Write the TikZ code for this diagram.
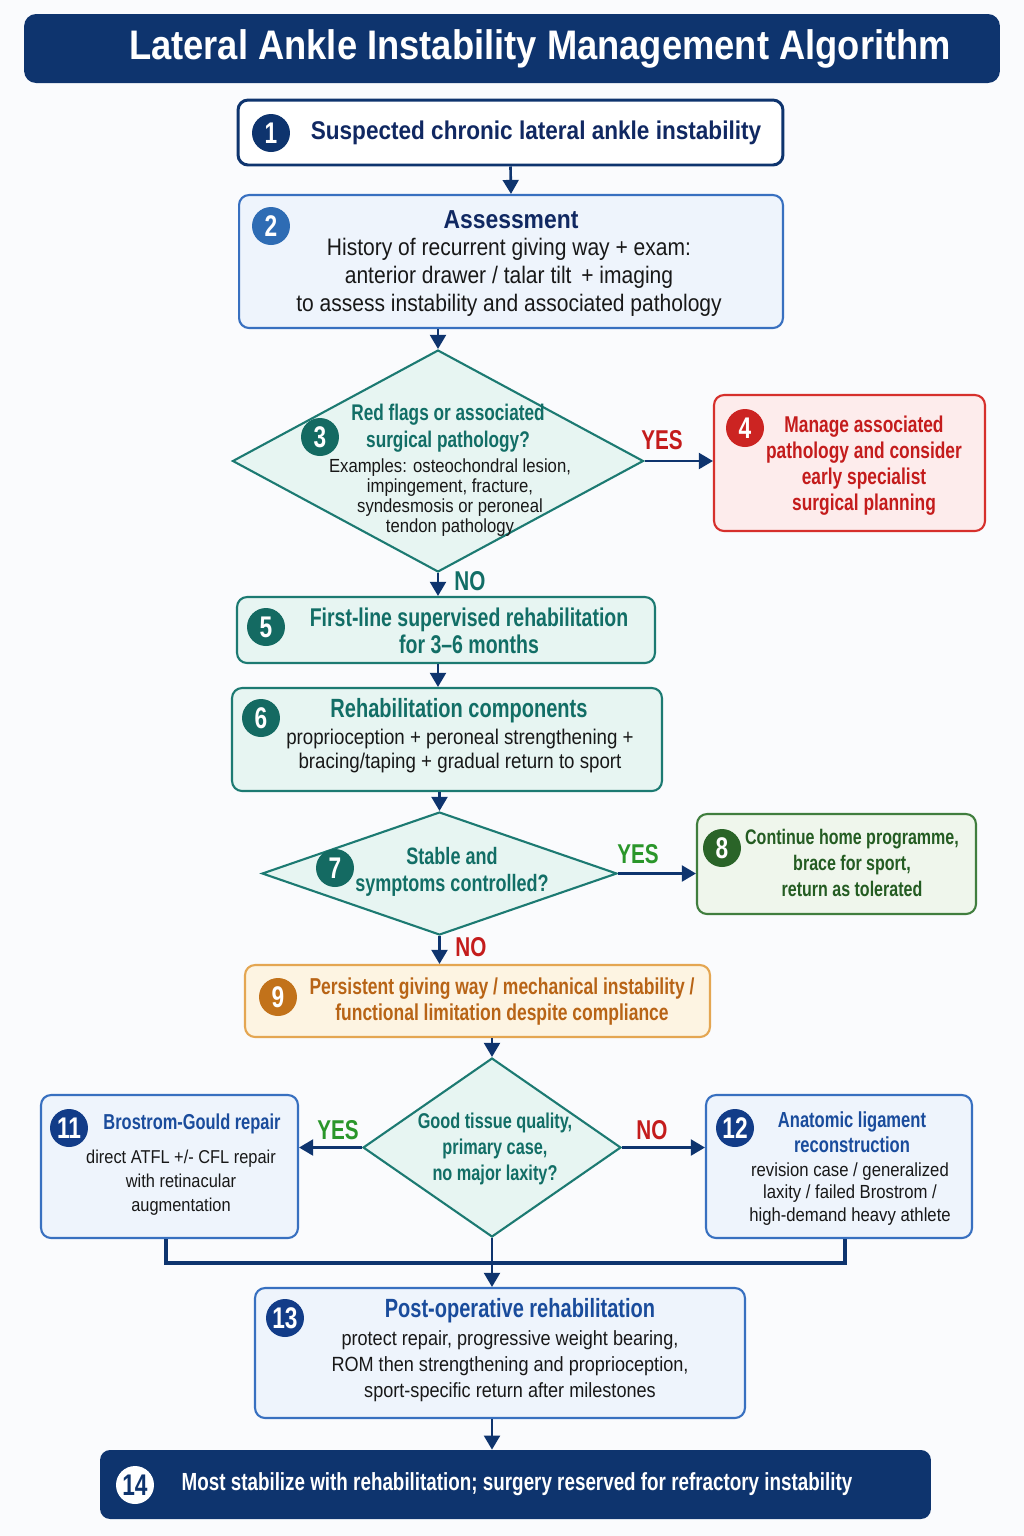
\documentclass[tikz,border=0pt]{standalone}
\usepackage{fontspec}
\setmainfont[FakeStretch=0.88]{Liberation Sans}
\newfontfamily\narrowfont[FakeStretch=0.76]{Liberation Sans}
\usetikzlibrary{shapes.geometric,arrows.meta}

\definecolor{bgc}{RGB}{250,251,253}
\definecolor{navy}{RGB}{14,52,110}
\definecolor{navytxt}{RGB}{16,40,98}
\definecolor{navyc}{RGB}{18,60,136}
\definecolor{blueb}{RGB}{56,112,192}
\definecolor{bluef}{RGB}{238,244,252}
\definecolor{bluec}{RGB}{46,108,180}
\definecolor{bluetxt}{RGB}{26,76,156}
\definecolor{tealb}{RGB}{28,122,114}
\definecolor{tealf}{RGB}{231,245,242}
\definecolor{tealtxt}{RGB}{18,110,102}
\definecolor{tealc}{RGB}{20,106,98}
\definecolor{redb}{RGB}{214,48,44}
\definecolor{redf}{RGB}{253,236,236}
\definecolor{redtxt}{RGB}{196,28,28}
\definecolor{redc}{RGB}{204,36,34}
\definecolor{greenb}{RGB}{64,126,62}
\definecolor{greenf}{RGB}{239,246,236}
\definecolor{greentxt}{RGB}{36,92,34}
\definecolor{greenc}{RGB}{42,100,40}
\definecolor{greenlbl}{RGB}{42,150,42}
\definecolor{orangeb}{RGB}{228,166,82}
\definecolor{orangef}{RGB}{253,244,226}
\definecolor{orangetxt}{RGB}{184,100,22}
\definecolor{orangec}{RGB}{194,114,26}
\definecolor{ink}{RGB}{24,24,24}

\tikzset{
  box/.style={draw, rounded corners=0.2cm, line width=1.2pt},
  dec/.style={diamond, draw=tealb, fill=tealf, line width=1.2pt, inner sep=0pt},
  num/.style={circle, fill=#1, text=white, inner sep=0pt, minimum size=0.76cm,
    font=\narrowfont\bfseries\fontsize{17}{17}\selectfont},
  flow/.style={draw=navy, line width=1.5pt, -{Triangle[length=8pt,width=9pt]}},
  link/.style={draw=navy, line width=1.8pt},
  answer/.style={font=\narrowfont\bfseries\fontsize{15.5}{16}\selectfont},
}

\begin{document}
\begin{tikzpicture}[x=0.02cm, y=-0.02cm]
  \fill[bgc] (0,0) rectangle (1024,1536);

  % title
  \node[fill=navy, rounded corners=0.24cm, minimum width=19.52cm, minimum height=1.38cm] (title) at (512,48.5) {};
  \node[text=white, font=\bfseries\fontsize{23.5}{26}\selectfont] (ttext) at (540,49) {Lateral Ankle Instability Management Algorithm};

  % 1
  \node[box, draw=navy, fill=white, line width=1.7pt, minimum width=10.9cm, minimum height=1.3cm] (b1) at (510.5,132.5) {};
  \node[num=navy] (c1) at (271,133) {1};
  \node[text=navytxt, font=\bfseries\fontsize{14.6}{16}\selectfont] (t1) at (536,133) {Suspected chronic lateral ankle instability};

  % 2
  \node[box, draw=blueb, fill=bluef, minimum width=10.88cm, minimum height=2.66cm] (b2) at (511,261.5) {};
  \node[num=bluec] (c2) at (271,226) {2};
  \node[text=navytxt, font=\bfseries\fontsize{14.8}{16}\selectfont] (h2) at (511,220) {Assessment};
  \node[text=ink, align=center, font=\fontsize{13.6}{15.9}\selectfont] (s2) at (509,277)
    {History of recurrent giving way + exam:\\anterior drawer / talar tilt \,+ imaging\\to assess instability and associated pathology};

  % 3
  \node[dec, minimum width=8.22cm, minimum height=4.44cm] (d3) at (438,461) {};
  \node[num=tealc] (c3) at (320,437) {3};
  \node[text=tealtxt, align=center, font=\narrowfont\bfseries\fontsize{12.9}{15.4}\selectfont] (h3) at (448,428)
    {Red flags or associated\\surgical pathology?};
  \node[text=ink, align=center, font=\fontsize{10.8}{11.5}\selectfont] (s3) at (450,497.5)
    {Examples: osteochondral lesion,\\impingement, fracture,\\syndesmosis or peroneal\\tendon pathology};

  % 4
  \node[box, draw=redb, fill=redf, minimum width=5.42cm, minimum height=2.72cm] (b4) at (849.5,463) {};
  \node[num=redc] (c4) at (745,428) {4};
  \node[text=redtxt, align=center, font=\narrowfont\bfseries\fontsize{13}{14.8}\selectfont] (t4) at (864,466)
    {Manage associated\\pathology and consider\\early specialist\\surgical planning};

  % 5
  \node[box, draw=tealb, fill=tealf, minimum width=8.36cm, minimum height=1.32cm] (b5) at (446,630) {};
  \node[num=tealc] (c5) at (266,627) {5};
  \node[text=tealtxt, align=center, font=\narrowfont\bfseries\fontsize{14.6}{15.4}\selectfont] (t5) at (469,630.5)
    {First-line supervised rehabilitation\\for 3–6 months};

  % 6
  \node[box, draw=tealb, fill=tealf, minimum width=8.6cm, minimum height=2.06cm] (b6) at (447,739.5) {};
  \node[num=tealc] (c6) at (261,718) {6};
  \node[text=tealtxt, font=\narrowfont\bfseries\fontsize{15}{16}\selectfont] (h6) at (459,711) {Rehabilitation components};
  \node[text=ink, align=center, font=\fontsize{12.1}{13.7}\selectfont] (s6) at (460,751)
    {proprioception + peroneal strengthening +\\bracing/taping + gradual return to sport};

  % 7
  \node[dec, minimum width=7.1cm, minimum height=2.46cm] (d7) at (439.5,873.5) {};
  \node[num=tealc] (c7) at (335,868) {7};
  \node[text=tealtxt, align=center, font=\narrowfont\bfseries\fontsize{13.5}{15.4}\selectfont] (t7) at (452,871.5)
    {Stable and\\symptoms controlled?};

  % 8
  \node[box, draw=greenb, fill=greenf, minimum width=5.58cm, minimum height=2.0cm] (b8) at (836.5,864) {};
  \node[num=greenc] (c8) at (722,848) {8};
  \node[text=greentxt, align=center, font=\narrowfont\bfseries\fontsize{12}{14.8}\selectfont] (t8) at (852,863)
    {Continue home programme,\\brace for sport,\\return as tolerated};

  % 9
  \node[box, draw=orangeb, fill=orangef, minimum width=9.3cm, minimum height=1.44cm] (b9) at (477.5,1001) {};
  \node[num=orangec] (c9) at (278,997) {9};
  \node[text=orangetxt, align=center, font=\narrowfont\bfseries\fontsize{13.1}{14.8}\selectfont] (t9) at (502,1002)
    {Persistent giving way / mechanical instability /\\functional limitation despite compliance};

  % tissue decision
  \node[dec, minimum width=5.16cm, minimum height=3.58cm] (d10) at (492,1147.5) {};
  \node[text=tealtxt, align=center, font=\narrowfont\bfseries\fontsize{12.2}{14.8}\selectfont] (t10) at (495,1149)
    {Good tissue quality,\\primary case,\\no major laxity?};

  % 11
  \node[box, draw=blueb, fill=bluef, minimum width=5.14cm, minimum height=2.86cm] (b11) at (169.5,1166.5) {};
  \node[num=navyc] (c11) at (69,1128) {11};
  \node[text=bluetxt, font=\narrowfont\bfseries\fontsize{12.3}{14}\selectfont] (h11) at (192,1124) {Brostrom-Gould repair};
  \node[text=ink, align=center, font=\fontsize{10.6}{13.7}\selectfont] (s11) at (181,1183)
    {direct ATFL +/- CFL repair\\with retinacular\\augmentation};

  % 12
  \node[box, draw=blueb, fill=bluef, minimum width=5.32cm, minimum height=2.86cm] (b12) at (839,1166.5) {};
  \node[num=navyc] (c12) at (735,1128) {12};
  \node[text=bluetxt, align=center, font=\narrowfont\bfseries\fontsize{12.4}{14.2}\selectfont] (h12) at (852,1132.5)
    {Anatomic ligament\\reconstruction};
  \node[text=ink, align=center, font=\fontsize{10.8}{12.8}\selectfont] (s12) at (850,1194)
    {revision case / generalized\\laxity / failed Brostrom /\\high-demand heavy athlete};

  % 13
  \node[box, draw=blueb, fill=bluef, minimum width=9.8cm, minimum height=2.6cm] (b13) at (500,1353) {};
  \node[num=navyc] (c13) at (285,1318) {13};
  \node[text=bluetxt, font=\narrowfont\bfseries\fontsize{15}{16}\selectfont] (h13) at (520,1311) {Post-operative rehabilitation};
  \node[text=ink, align=center, font=\fontsize{11.7}{14.8}\selectfont] (s13) at (510,1366)
    {protect repair, progressive weight bearing,\\ROM then strengthening and proprioception,\\sport-specific return after milestones};

  % 14
  \node[fill=navy, rounded corners=0.2cm, minimum width=16.62cm, minimum height=1.38cm] (b14) at (515.5,1484.5) {};
  \node[num=white, text=navy] (c14) at (135,1485) {14};
  \node[text=white, font=\narrowfont\bfseries\fontsize{14.1}{16}\selectfont] (t14) at (517,1484)
    {Most stabilize with rehabilitation; surgery reserved for refractory instability};

  % answers
  \node[answer, text=redtxt] (y3) at (662,440) {YES};
  \node[answer, text=tealtxt] (n3) at (470,581) {NO};
  \node[answer, text=greenlbl] (y7) at (638,854) {YES};
  \node[answer, text=redtxt] (n7) at (471,947) {NO};
  \node[answer, text=greenlbl] (y10) at (338,1130) {YES};
  \node[answer, text=redtxt] (n10) at (652,1130) {NO};

  % connectors
  \draw[flow] (b1.south) -- (b2.north);
  \draw[flow] (b2.south -| d3.north) -- (d3.north);
  \draw[flow] (d3.east) -- (d3.east -| b4.west);
  \draw[flow] (d3.south) -- (d3.south |- b5.north);
  \draw[flow] (b5.south -| d3.south) -- (b6.north -| d3.south);
  \draw[flow] (b6.south -| d7.north) -- (d7.north);
  \draw[flow] (d7.east) -- (d7.east -| b8.west);
  \draw[flow] (d7.south) -- (d7.south |- b9.north);
  \draw[flow] (b9.south -| d10.north) -- (d10.north);
  \draw[flow] (d10.west) -- (d10.west -| b11.east);
  \draw[flow] (d10.east) -- (d10.east -| b12.west);
  \coordinate (mrg) at (492,1263);
  \draw[link] ([xshift=-0.07cm]b11.south) |- (mrg) -| ([xshift=0.12cm]b12.south);
  \draw[flow] (d10.south) -- (d10.south |- b13.north);
  \draw[flow] (b13.south -| d10.south) -- (b14.north -| d10.south);
\end{tikzpicture}
\end{document}
